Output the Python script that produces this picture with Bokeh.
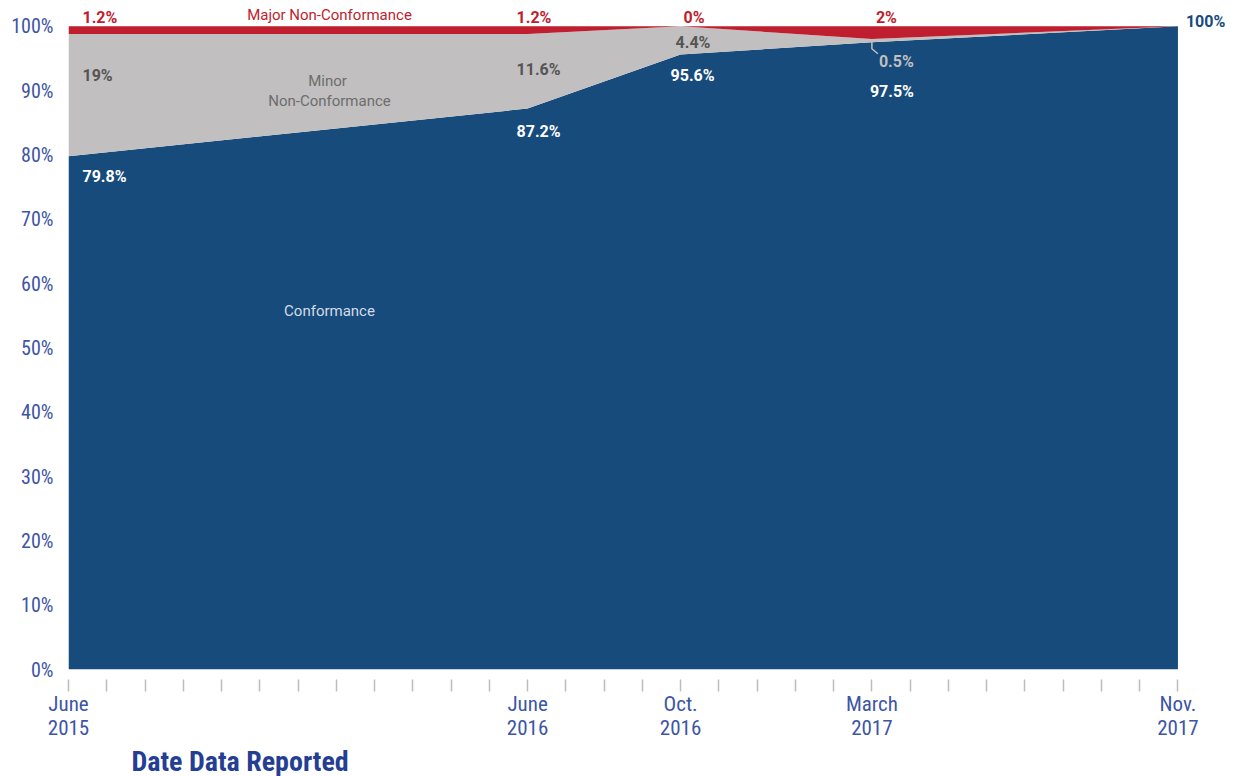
from bokeh.plotting import figure
from bokeh.models import ColumnDataSource, FixedTicker, Label, Range1d, Title
from bokeh.embed import file_html
from bokeh.resources import INLINE

# ---- data ----
months = [0, 12, 16, 21, 29]          # months since June 2015
month_labels = ["June\n2015", "June\n2016", "Oct.\n2016", "March\n2017", "Nov.\n2017"]
conformance = [79.8, 87.2, 95.6, 97.5, 100]
minor = [19, 11.6, 4.4, 0.5, 0]
major = [1.2, 1.2, 0, 2, 0]
y_ticks = list(range(0, 101, 10))
n_months = 29

BLUE = "#164b7b"
GRAY = "#c1bfc0"
RED = "#be1e2d"
AXIS_TXT = "#3d55a5"
NARROW = "'Liberation Sans Narrow', 'Arial Narrow', 'Roboto Condensed', Roboto, sans-serif"
LABEL_FONT = "Roboto"

px_x = 1109 / n_months        # pixels per month
px_y = 6.43                   # pixels per percent
X_END = n_months + 1.4        # room for the end label
Y_END = 104.0                 # room for the labels above the chart
FW = round(px_x * X_END)
FH = round(px_y * Y_END)

src = ColumnDataSource(dict(x=months, conf=conformance, minor=minor, major=major))

p = figure(frame_width=FW, frame_height=FH, title=None,
           x_range=Range1d(0, X_END), y_range=Range1d(0, Y_END),
           output_backend="svg", toolbar_location=None,
           min_border_left=68, min_border_right=0, min_border_top=0, min_border_bottom=100)
p.outline_line_color = None
p.xgrid.visible = False
p.ygrid.visible = False
p.background_fill_color = "white"

p.varea_stack(stackers=["conf", "minor", "major"], x="x", color=[BLUE, GRAY, RED], source=src)

# y axis
p.yaxis.ticker = FixedTicker(ticks=y_ticks)
p.yaxis.major_label_overrides = {t: f"{t}%" for t in y_ticks}
p.yaxis.axis_line_color = None
p.yaxis.major_tick_line_color = None
p.yaxis.minor_tick_line_color = None
p.yaxis.major_tick_out = 0
p.yaxis.major_tick_in = 0
p.yaxis.major_label_standoff = 15
p.yaxis.major_label_text_font = NARROW
p.yaxis.major_label_text_font_size = "20px"
p.yaxis.major_label_text_color = AXIS_TXT

# x axis
all_ticks = list(range(n_months + 1))
p.xaxis.ticker = FixedTicker(ticks=all_ticks)
ov = {t: "" for t in all_ticks}
for m, lab in zip(months, month_labels):
    ov[m] = lab
p.xaxis.major_label_overrides = ov
p.xaxis.axis_line_color = None
p.xaxis.minor_tick_line_color = None
p.xaxis.major_tick_in = -10
p.xaxis.major_tick_out = 22
p.xaxis.major_tick_line_color = "#bdbdbd"
p.xaxis.major_tick_line_width = 1.5
p.xaxis.major_label_standoff = 0
p.xaxis.major_label_text_font = NARROW
p.xaxis.major_label_text_font_size = "21px"
p.xaxis.major_label_text_color = AXIS_TXT
p.xaxis.major_label_text_line_height = 1.0

# axis title
p.add_layout(Title(text="Date Data Reported", align="left", offset=63,
                   text_font=NARROW, text_font_size="28px", text_font_style="bold",
                   text_color="#243e94", standoff=0), "below")


def add_label(x, y, text, color, dx=0, dy=0, bold=True, size="16px", align="left", font=LABEL_FONT):
    p.add_layout(Label(x=x, y=y, text=text, x_offset=dx, y_offset=dy,
                       text_color=color, text_font=font, text_font_size=size,
                       text_font_style="bold" if bold else "normal",
                       text_align=align, text_baseline="middle"))


def pct(v):
    return f"{v:g}%"

# major row (above the chart)
major_dx = [14, -11, 3, 4]
for i in range(4):
    add_label(months[i], 100, pct(major[i]), RED, dx=major_dx[i], dy=9)
add_label(months[0], 100, "Major Non-Conformance", RED, dx=261, dy=11, bold=False,
          size="15px", align="center")

# minor labels
top_conf_minor = [c + m for c, m in zip(conformance, minor)]
add_label(months[0], top_conf_minor[0], pct(minor[0]), "#555555", dx=14, dy=-42)
add_label(months[1], top_conf_minor[1], pct(minor[1]), "#555555", dx=-11, dy=-36)
add_label(months[2], 100, pct(minor[2]), "#555555", dx=-5, dy=-16)
add_label(months[3], conformance[3], pct(minor[3]), GRAY, dx=7, dy=-19)

# conformance labels
add_label(months[0], conformance[0], pct(conformance[0]), "white", dx=14, dy=-20)
add_label(months[1], conformance[1], pct(conformance[1]), "white", dx=-11, dy=-23)
add_label(months[2], conformance[2], pct(conformance[2]), "white", dx=-10, dy=-21)
add_label(months[3], conformance[3], pct(conformance[3]), "white", dx=-2, dy=-49)
add_label(months[4], conformance[4], pct(conformance[4]), BLUE, dx=8, dy=5)

# series names
add_label(months[0], 100, "Minor", "#6d6d6d", dx=259, dy=-55, bold=False, size="15px", align="center")
add_label(months[0], 100, "Non-Conformance", "#6d6d6d", dx=261, dy=-75, bold=False, size="15px", align="center")
add_label(months[0], 100, "Conformance", "#d3dbe7", dx=261, dy=-285, bold=False, size="15px", align="center")

# leader line for the 0.5% label
lx0 = months[3]
ly0 = conformance[3] + minor[3] / 2
p.line(x=[lx0, lx0, lx0 + 6 / px_x], y=[ly0, ly0 - 8 / px_y, ly0 - 13 / px_y],
       line_color=GRAY, line_width=1.5)

open("out.html", "w").write(file_html(p, INLINE))
